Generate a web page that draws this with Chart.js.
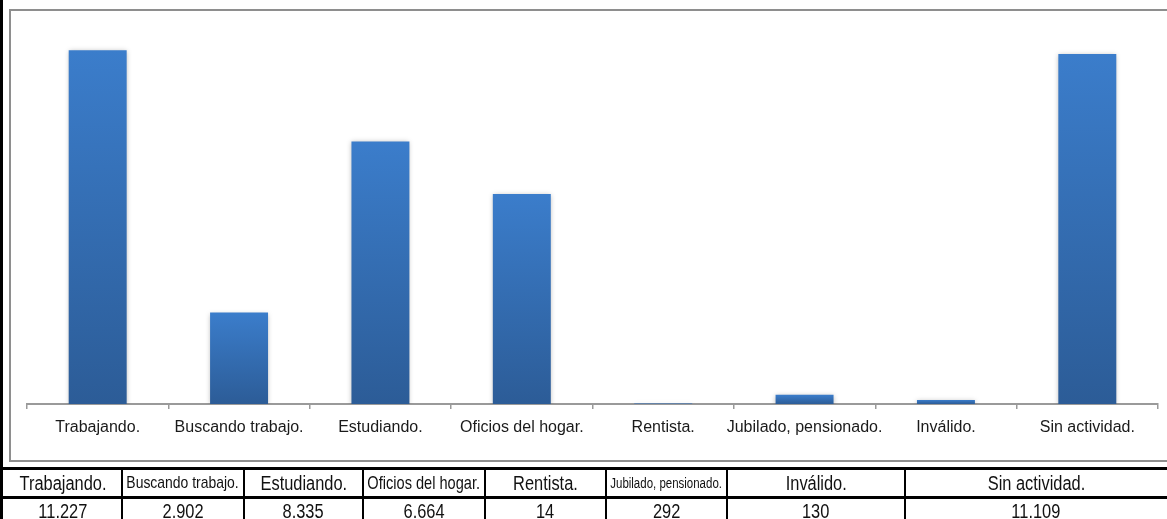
<!DOCTYPE html>
<html>
<head>
<meta charset="utf-8">
<script src="https://cdn.jsdelivr.net/npm/chart.js@4.4.1/dist/chart.umd.min.js"></script>
<style>
  html, body { margin: 0; padding: 0; background: #fff; }
  body { width: 1167px; height: 519px; position: relative; overflow: hidden; }
  #leftBar { position: absolute; left: 0; top: 0; width: 3px; height: 519px; background: #000; }
  #frame { position: absolute; left: 9px; top: 9px; width: 1200px; height: 449px;
    border: 2px solid #8e8e8e; border-right: none; box-sizing: content-box; }
  #chartWrap { position: absolute; left: 0; top: 0; width: 1167px; height: 463px; }
  #table { position: absolute; left: 0; top: 0; width: 1167px; height: 519px; }
  .hline { position: absolute; background: #000; height: 3px; left: 0; width: 1167px; }
  .vline { position: absolute; background: #000; width: 2px; top: 467px; height: 52px; }
  .cell { position: absolute; display: flex; justify-content: center; align-items: center;
    color: #111; white-space: nowrap;
    font-family: "Liberation Sans Narrow", "Arial Narrow", "Liberation Sans", sans-serif; }
  .cell span { display: block; flex: none; transform-origin: center center; }
</style>
</head>
<body>
<div id="leftBar"></div>
<div id="frame"></div>
<div id="chartWrap"><canvas id="barChart" width="1167" height="463"></canvas></div>
<div id="table"></div>
<script>
// data
const categories = [
  "Trabajando.",
  "Buscando trabajo.",
  "Estudiando.",
  "Oficios del hogar.",
  "Rentista.",
  "Jubilado, pensionado.",
  "Inválido.",
  "Sin actividad.",
];
const personas = [11227, 2902, 8335, 6664, 14, 292, 130, 11109];
const valueLabels = ["11.227", "2.902", "8.335", "6.664", "14", "292", "130", "11.109"];

// table column edges (layout)
const colEdges = [3, 122, 244, 363, 485, 606, 727, 905, 1167];

const labelFont = "'Liberation Sans', Arial, sans-serif";
const squeeze = 0.82; // narrow look for table text

// data table under the chart
const table = document.getElementById("table");
const measure = document.createElement("canvas").getContext("2d");

function addLine(cls, style) {
  const d = document.createElement("div");
  d.className = cls;
  Object.assign(d.style, style);
  table.appendChild(d);
}
addLine("hline", { top: "467px" });
addLine("hline", { top: "496px" });
colEdges.slice(1, -1).forEach(function (x) {
  addLine("vline", { left: x - 1 + "px" });
});

function addCell(text, left, w, top, h, size) {
  const cell = document.createElement("div");
  cell.className = "cell";
  Object.assign(cell.style, {
    left: left + "px", width: w + "px", top: top + "px", height: h + "px",
    fontSize: size + "px",
  });
  const span = document.createElement("span");
  span.textContent = text;
  span.style.transform = "scaleX(" + squeeze + ")";
  cell.appendChild(span);
  table.appendChild(cell);
}

categories.forEach(function (name, i) {
  const left = colEdges[i];
  const w = colEdges[i + 1] - left;
  measure.font = "20px " + labelFont;
  const tw = measure.measureText(name).width * squeeze;
  let size = 20;
  if (tw > w - 9) size = Math.floor((20 * (w - 9)) / tw * 10) / 10;
  addCell(name, left, w, 470, 26, size);
  addCell(valueLabels[i], left, w, 499, 24, 20);
});

// bar chart
const barShadow = {
  id: "barShadow",
  beforeDatasetsDraw(chart) {
    const ctx = chart.ctx;
    ctx.save();
    ctx.shadowColor = "rgba(0, 0, 0, 0.28)";
    ctx.shadowBlur = 5;
    ctx.shadowOffsetX = 0;
    ctx.shadowOffsetY = 1;
  },
  afterDatasetsDraw(chart) {
    chart.ctx.restore();
  },
};

function barGradient(context) {
  const chart = context.chart;
  const yScale = chart.scales.y;
  if (!yScale || context.type !== "data") return "#3570b9";
  const top = yScale.getPixelForValue(context.parsed.y);
  const base = yScale.getPixelForValue(0);
  if (!isFinite(top) || base - top < 1) return "#3570b9";
  const g = chart.ctx.createLinearGradient(0, top, 0, base);
  g.addColorStop(0, "#3b7dcb");
  g.addColorStop(1, "#2c5c97");
  return g;
}

const ctx = document.getElementById("barChart").getContext("2d");
new Chart(ctx, {
  type: "bar",
  data: {
    labels: categories,
    datasets: [
      {
        label: "Personas",
        data: personas,
        backgroundColor: barGradient,
        borderWidth: 0,
        categoryPercentage: 1,
        barPercentage: 0.41,
      },
    ],
  },
  options: {
    responsive: false,
    animation: false,
    devicePixelRatio: 1,
    layout: {
      padding: { left: 27, right: 9, top: 26, bottom: 4 },
    },
    plugins: {
      legend: { display: false },
      tooltip: { enabled: false },
    },
    scales: {
      y: {
        display: false,
        min: 0,
        max: 12000,
      },
      x: {
        afterFit: function (scale) {
          scale.height = 55;
        },
        grid: {
          offset: true,
          drawOnChartArea: false,
          drawTicks: true,
          tickLength: 5,
          color: "#9a9a9a",
          lineWidth: 1.5,
        },
        border: {
          color: "#9a9a9a",
          width: 2,
        },
        ticks: {
          color: "#1a1a1a",
          padding: 9,
          maxRotation: 0,
          autoSkip: false,
          font: { family: labelFont, size: 16 },
        },
      },
    },
  },
  plugins: [barShadow],
});
</script>
</body>
</html>
